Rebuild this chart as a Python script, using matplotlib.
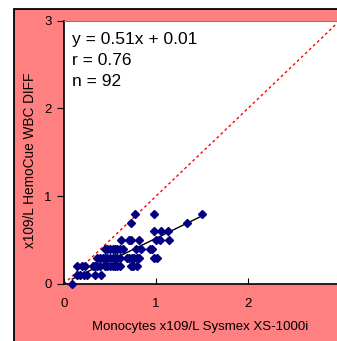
import numpy as np
import matplotlib.pyplot as plt
from matplotlib.patches import Rectangle

plt.rcParams['font.family'] = ['Liberation Sans', 'DejaVu Sans']

# Sysmex monocytes (x) vs HemoCue (y), grouped by HemoCue level
x_08 = [0.77, 0.98, 1.50]
x_07 = [0.73, 1.34]
x_06 = [0.98, 1.05, 1.13]
x_05 = [0.62, 0.71, 0.73, 0.82, 1.00, 1.04, 1.14]
x_04 = [0.45, 0.47, 0.50, 0.53, 0.55, 0.58, 0.61, 0.64, 0.78, 0.84, 0.93, 0.96]
x_03 = [0.36, 0.39, 0.42, 0.45, 0.47, 0.50, 0.53, 0.55, 0.58, 0.61,
        0.68, 0.71, 0.74, 0.76, 0.79, 0.82, 0.98, 1.01]
x_02 = [0.145, 0.20, 0.23, 0.31, 0.34, 0.36, 0.39, 0.45, 0.47, 0.50,
        0.53, 0.55, 0.58, 0.61, 0.73, 0.75, 0.79]
x_01 = [0.145, 0.17, 0.22, 0.25, 0.34, 0.40]
x_00 = [0.09]

groups = [(0.8, x_08), (0.7, x_07), (0.6, x_06), (0.5, x_05), (0.4, x_04),
          (0.3, x_03), (0.2, x_02), (0.1, x_01), (0.0, x_00)]

slope = 0.51
intercept = 0.01
r_value = 0.76
n_value = 92

xs = np.concatenate([np.array(g) for _, g in groups])
ys = np.concatenate([np.full(len(g), lvl) for lvl, g in groups])

fig = plt.figure(figsize=(3.37, 3.41), dpi=100)
fig.patch.set_facecolor('white')

# pink chart area with black border (cropped at right/bottom)
bg = Rectangle((14 / 337, -0.2), 1.2, 0.2 + (341 - 8.5) / 341,
               transform=fig.transFigure, facecolor='#ff8080',
               edgecolor='black', linewidth=1.3, zorder=-10)
fig.patches.append(bg)

ax = fig.add_axes([64 / 337, 57 / 341, 276 / 337, 263.5 / 341])
ax.set_facecolor('white')

ax.plot([0, 3], [0, 3], color='red', linestyle=(0, (2, 2)), linewidth=1)
fx = np.array([xs.min(), xs.max()])
ax.plot(fx, slope * fx + intercept, color='black', linewidth=1)
ax.plot(xs, ys, linestyle='none', marker='D', markersize=3.8,
        color='#000080', clip_on=False, zorder=3)

ax.set_xlim(0, 3)
ax.set_ylim(0, 3)
ax.set_xticks([0, 1, 2, 3])
ax.set_yticks([0, 1, 2, 3])
ax.tick_params(axis='x', direction='in', length=4, pad=10, labelsize=9.5)
ax.tick_params(axis='y', direction='out', length=5, pad=4, labelsize=9.5)

for s in ['left', 'bottom']:
    ax.spines[s].set_color('black')
    ax.spines[s].set_linewidth(1.2)
ax.spines['top'].set_color('#808080')
ax.spines['right'].set_visible(False)

ax.set_xlabel('Monocytes x109/L Sysmex XS-1000i', fontsize=9.5)
ax.xaxis.set_label_coords(0.493, -0.140)
ax.set_ylabel('x109/L HemoCue WBC DIFF', fontsize=9.8)
ax.yaxis.set_label_coords(-0.098, 0.47)

ax.text(0.029, 0.958,
        f'y = {slope}x + {intercept}\nr = {r_value}\nn = {n_value}',
        transform=ax.transAxes, ha='left', va='top', fontsize=12.5,
        linespacing=1.5)

fig.savefig('out.png', dpi=100)
